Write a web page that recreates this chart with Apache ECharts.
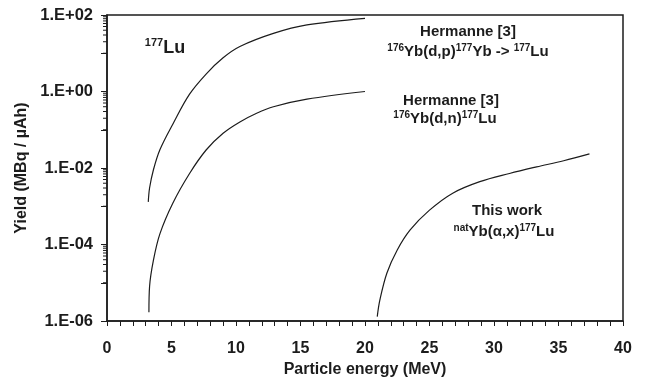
<!DOCTYPE html>
<html>
<head>
<meta charset="utf-8">
<script src="https://cdn.jsdelivr.net/npm/echarts@6/dist/echarts.min.js"></script>
<style>
  html, body { margin: 0; padding: 0; background: #fff; }
  #chart { width: 645px; height: 380px; }
</style>
</head>
<body>
<div id="chart"></div>
<script>
// Thick-target yields for 177Lu.
const energyDp = [3.2, 3.3, 3.6, 4.1, 5.1, 6.4, 7.7, 9.0, 10.3, 12.9, 15.5, 20.0];
const yieldDp = [1.3e-3, 3e-3, 9e-3, 0.03, 0.14, 0.85, 2.9, 7.6, 15, 33, 55, 82];

const energyDn = [3.25, 3.3, 3.6, 4.1, 5.1, 6.4, 7.7, 9.0, 10.3, 11.6, 12.9, 15.5, 20.0];
const yieldDn = [1.7e-6, 8e-6, 3.9e-5, 1.9e-4, 1.2e-3, 7.2e-3, 0.03, 0.081, 0.16, 0.27, 0.40, 0.63, 1.0];

const energyAlpha = [20.95, 21.15, 21.7, 22.5, 23.5, 25.0, 26.8, 28.9, 31.2, 33.3, 35.4, 37.4];
const yieldAlpha = [1.3e-6, 3.5e-6, 1.8e-5, 7.2e-5, 2.4e-4, 7.9e-4, 2.2e-3, 4.4e-3, 7.2e-3, 0.0107, 0.0155, 0.0234];

// log-axis minor ticks (Excel style, base-100 major unit)
const minorMultipliers = [10, 20, 30, 40, 50, 60, 70, 80, 90];
const minorDecades = [1e-6, 1e-4, 1e-2, 1e0];

const ink = '#1c1c1c';
const font = '"Liberation Sans", Arial, sans-serif';

const pairs = (xs, ys) => xs.map((x, i) => [x, ys[i]]);
const minorTicks = [];
minorDecades.forEach((d) => minorMultipliers.forEach((m) => minorTicks.push([0, m * d])));

const yLabel = (v) => {
  const e = Math.round(Math.log10(v));
  if (e % 2 !== 0) return '';
  return '1.E' + (e < 0 ? '-' : '+') + String(Math.abs(e)).padStart(2, '0');
};

const curve = (data) => ({
  type: 'line',
  data,
  showSymbol: false,
  smooth: 0.35,
  lineStyle: { color: ink, width: 1.2 },
  silent: true,
});

const sup = { fontSize: 10, fontWeight: 'bold', fontFamily: font, fill: ink, verticalAlign: 'top', lineHeight: 18 };
const main = { fontSize: 15, fontWeight: 'bold', fontFamily: font, fill: ink, lineHeight: 18 };
const supBig = { fontSize: 11, fontWeight: 'bold', fontFamily: font, fill: ink, verticalAlign: 'top', lineHeight: 21 };
const mainBig = { fontSize: 18, fontWeight: 'bold', fontFamily: font, fill: ink, lineHeight: 21 };

const note = (x, y, text) => ({
  type: 'text', x, y, silent: true,
  style: { text, align: 'center', verticalAlign: 'middle', rich: { s: sup, m: main, S: supBig, M: mainBig } },
});

const chart = echarts.init(document.getElementById('chart'), null, { renderer: 'canvas' });
chart.setOption({
  animation: false,
  textStyle: { fontFamily: font },
  grid: {
    left: 107, right: 22, top: 15, bottom: 59,
    outerBoundsMode: 'none',
    show: true, borderColor: ink, borderWidth: 1.5,
  },
  xAxis: {
    type: 'value', min: 0, max: 40, interval: 5,
    name: 'Particle energy (MeV)', nameLocation: 'middle', nameGap: 40,
    nameTextStyle: { fontSize: 16, fontWeight: 'bold', color: ink },
    axisLine: { onZero: false, lineStyle: { color: ink, width: 1.5 } },
    axisTick: { length: 5, lineStyle: { color: ink } },
    minorTick: { show: true, splitNumber: 5, length: 5, lineStyle: { color: ink } },
    axisLabel: { fontSize: 16, fontWeight: 'bold', color: ink, margin: 20 },
    splitLine: { show: false },
  },
  yAxis: {
    type: 'log', min: 1e-6, max: 1e2, splitNumber: 8,
    name: 'Yield (MBq / \u00b5Ah)', nameLocation: 'middle', nameGap: 70, nameRotate: 90,
    nameTextStyle: { fontSize: 16, fontWeight: 'bold', color: ink },
    axisLine: { lineStyle: { color: ink, width: 1.5 } },
    axisTick: { length: 6, lineStyle: { color: ink } },
    axisLabel: { fontSize: 16.5, fontWeight: 'bold', color: ink, margin: 14, formatter: yLabel },
    splitLine: { show: false },
  },
  series: [
    curve(pairs(energyDp, yieldDp)),
    curve(pairs(energyDn, yieldDn)),
    curve(pairs(energyAlpha, yieldAlpha)),
    {
      type: 'custom',
      data: minorTicks,
      clip: false,
      silent: true,
      renderItem: (params, api) => {
        const p = api.coord([api.value(0), api.value(1)]);
        return {
          type: 'line',
          shape: { x1: p[0] - 4, y1: p[1], x2: p[0], y2: p[1] },
          style: { stroke: ink, lineWidth: 1 },
        };
      },
    },
  ],
  graphic: [
    note(165, 48, '{S|177}{M|Lu}'),
    note(468, 32, '{m|Hermanne [3]}'),
    note(468, 52, '{s|176}{m|Yb(d,p)}{s|177}{m|Yb -> }{s|177}{m|Lu}'),
    note(451, 101, '{m|Hermanne [3]}'),
    note(445, 119, '{s|176}{m|Yb(d,n)}{s|177}{m|Lu}'),
    note(507, 211, '{m|This work}'),
    note(504, 232, '{s|nat}{m|Yb(\u03b1,x)}{s|177}{m|Lu}'),
  ],
});
</script>
</body>
</html>
